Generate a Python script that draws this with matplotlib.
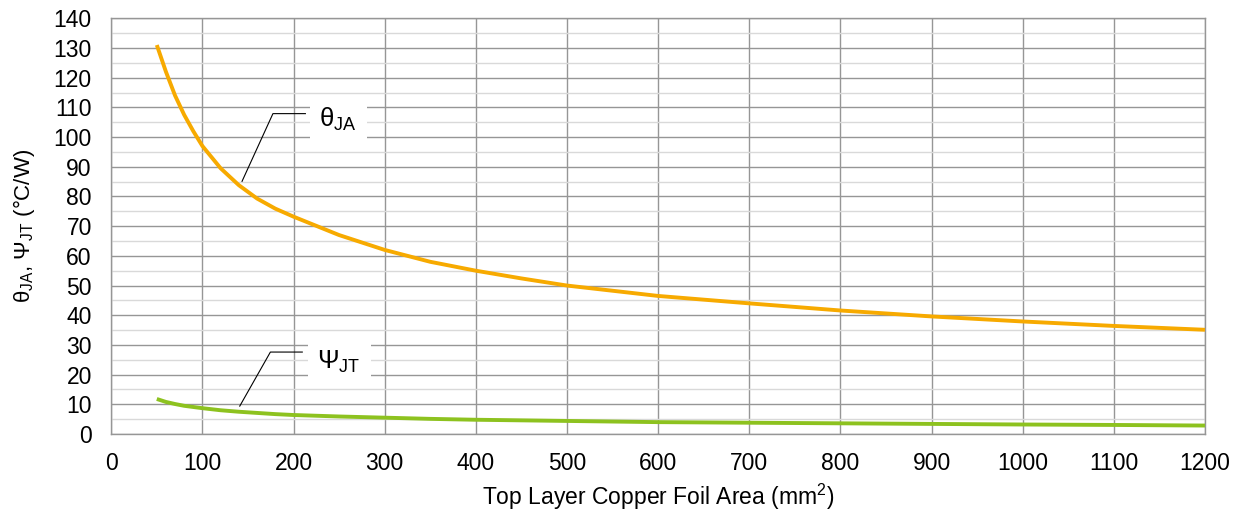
import numpy as np
import matplotlib
matplotlib.use("Agg")
import matplotlib.pyplot as plt
from matplotlib.ticker import MultipleLocator

plt.rcParams['font.family'] = ['Liberation Sans', 'DejaVu Sans']
plt.rcParams['mathtext.fontset'] = 'custom'
plt.rcParams['mathtext.rm'] = 'Liberation Sans'

# data
area     = [50, 60, 70, 80, 90, 100, 120, 140, 160, 180, 200, 250, 300, 350, 400, 450,
            500, 600, 700, 800, 900, 1000, 1100, 1200]
theta_ja = [131, 122, 114, 107.5, 102, 97, 89.5, 83.8, 79.3, 75.9, 73.2, 67, 62, 58, 55, 52.4,
            50, 46.5, 44, 41.6, 39.6, 37.9, 36.4, 35.1]
psi_jt   = [11.8, 10.8, 10.1, 9.5, 9.1, 8.7, 8.0, 7.5, 7.1, 6.7, 6.4, 5.9, 5.5, 5.1, 4.8, 4.6,
            4.4, 4.0, 3.8, 3.6, 3.4, 3.2, 3.05, 2.85]

orange = "#F7AA00"
green  = "#8DC21F"

fig = plt.figure(figsize=(12.43, 5.16), dpi=100)
ax = fig.add_axes([0.0895, 0.1589, 0.8799, 0.8056])

ax.plot(area, theta_ja, color=orange, lw=2.8, solid_capstyle='butt', zorder=3)
ax.plot(area, psi_jt, color=green, lw=2.8, solid_capstyle='butt', zorder=3)

ax.set_xlim(0, 1200)
ax.set_ylim(0, 140)
ax.xaxis.set_major_locator(MultipleLocator(100))
ax.yaxis.set_major_locator(MultipleLocator(10))
ax.yaxis.set_minor_locator(MultipleLocator(5))
ax.grid(which='minor', axis='y', color='#d9d9d9', lw=1.0, zorder=0)
ax.grid(which='major', color='#969696', lw=1.0, zorder=1)
ax.tick_params(which='both', length=0, labelsize=16.5)
ax.tick_params(axis='y', pad=14)
ax.tick_params(axis='x', pad=13)
for s in ax.spines.values():
    s.set_color('#969696')
    s.set_linewidth(1.0)

ax.set_xlabel("Top Layer Copper Foil Area (mm$^\\mathregular{2}$)", fontsize=16.5, labelpad=5)
ax.set_ylabel("θ$_\\mathregular{JA}$, Ψ$_\\mathregular{JT}$ (°C/W)", fontsize=16, labelpad=12)

# leader lines and labels
ax.plot([143.5, 177.4, 213], [85.1, 107.9, 107.9], color='black', lw=0.8, zorder=4)
ax.text(249, 106, "θ$_\\mathregular{JA}$", fontsize=18.5, ha='center', va='center', zorder=5,
        bbox=dict(facecolor='white', edgecolor='none', pad=7))
ax.plot([141, 174.6, 209.6], [9.4, 27.6, 27.6], color='black', lw=0.8, zorder=4)
ax.text(250, 24.5, "Ψ$_\\mathregular{JT}$", fontsize=18.5, ha='center', va='center', zorder=5,
        bbox=dict(facecolor='white', edgecolor='none', pad=7))

fig.savefig("out.png", dpi=100)
